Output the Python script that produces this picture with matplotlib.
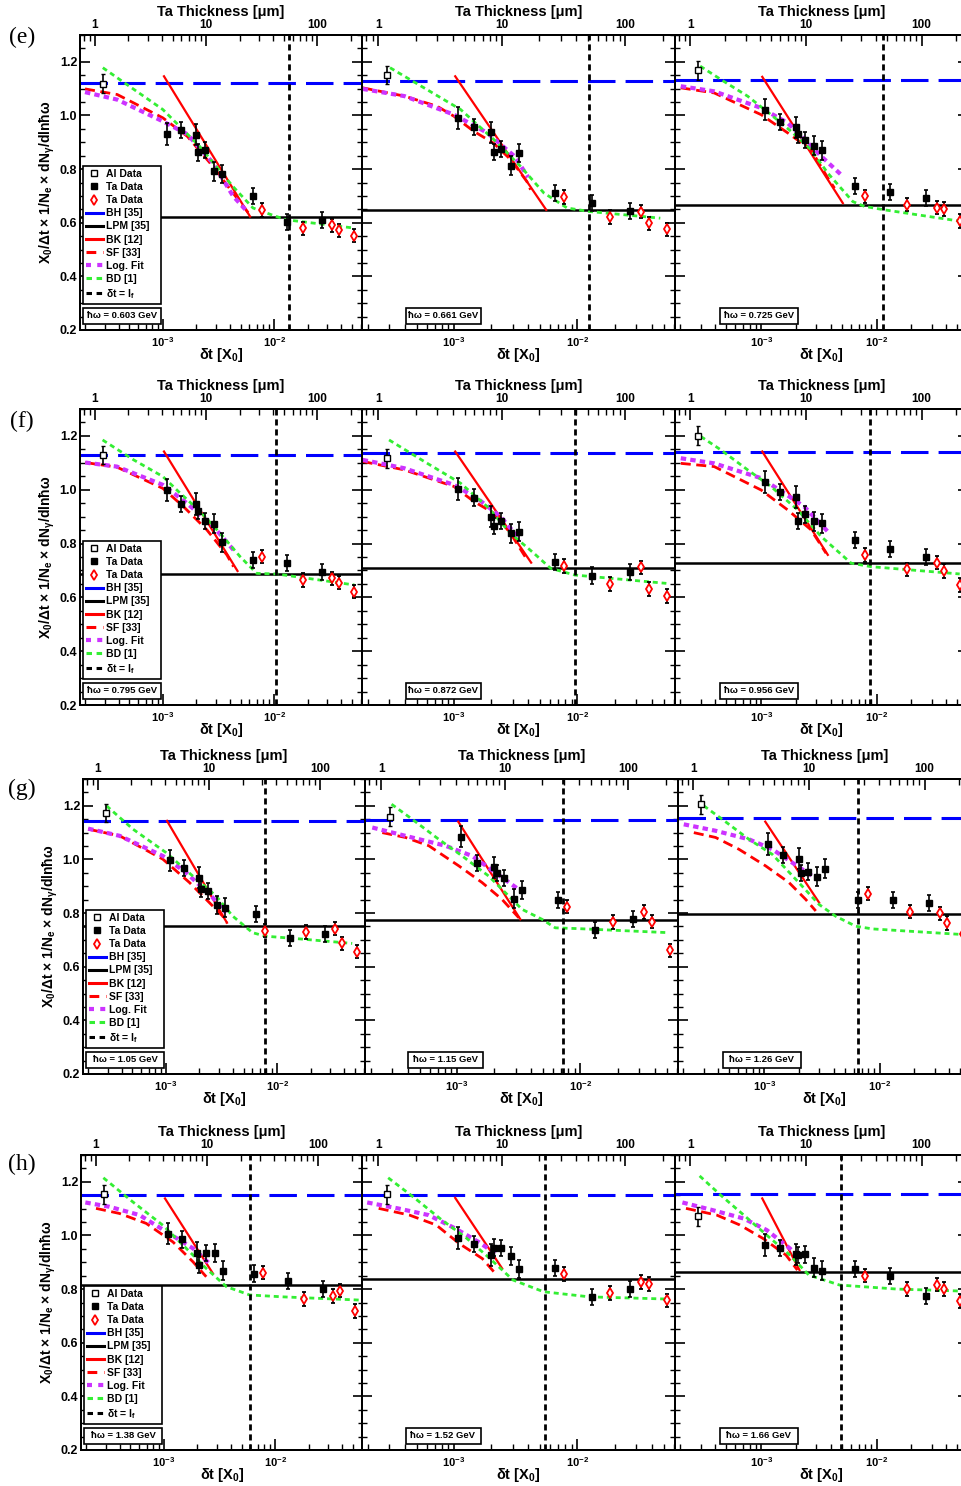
import numpy as np
import matplotlib
matplotlib.use("Agg")
import matplotlib.pyplot as plt
from matplotlib.lines import Line2D
from matplotlib.patches import Rectangle
from matplotlib.ticker import MultipleLocator, LogLocator, NullFormatter

plt.rcParams['font.family'] = ['Liberation Sans', 'DejaVu Sans']
plt.rcParams['mathtext.fontset'] = 'custom'
plt.rcParams['mathtext.rm'] = 'Liberation Sans:bold'
plt.rcParams['mathtext.bf'] = 'Liberation Sans:bold'
plt.rcParams['mathtext.it'] = 'Liberation Sans:italic:bold'
plt.rcParams['mathtext.default'] = 'rm'

# ---------------------------------------------------------------- data
PANEL_TAGS = ['(e)', '(f)', '(g)', '(h)']
ENERGY_GEV = ['0.603', '0.661', '0.725', '0.795', '0.872', '0.956',
              '1.05', '1.15', '1.26', '1.38', '1.52', '1.66']

DT_AL = [2.87e-4]
DT_TA_BLACK = [1.087e-3, 1.46e-3, 1.99e-3, 2.09e-3, 2.40e-3, 2.89e-3, 3.39e-3,
               6.52e-3, 1.30e-2, 2.68e-2]
DT_TA_RED = [7.85e-3, 1.83e-2, 3.30e-2, 3.81e-2, 5.27e-2]
ERR_AL = [0.035]
ERR_BLACK = [0.04, 0.03, 0.04, 0.03, 0.03, 0.035, 0.035, 0.03, 0.03, 0.03]
ERR_RED = [0.025, 0.025, 0.025, 0.025, 0.025]

AL_VAL = [1.118, 1.151, 1.169, 1.129, 1.117, 1.201, 1.173, 1.160, 1.206, 1.153, 1.153, 1.072]

BLACK_VAL = [
    [0.931, 0.947, 0.928, 0.862, 0.870, 0.792, 0.782, 0.698, 0.602, 0.611],
    [0.991, 0.956, 0.937, 0.865, 0.876, 0.813, 0.860, 0.711, 0.673, 0.645],
    [1.022, 0.975, 0.956, 0.929, 0.910, 0.887, 0.870, 0.738, 0.714, 0.692],
    [0.999, 0.947, 0.946, 0.921, 0.885, 0.873, 0.805, 0.739, 0.729, 0.693],
    [1.003, 0.971, 0.900, 0.865, 0.885, 0.838, 0.844, 0.733, 0.681, 0.693],
    [1.028, 0.991, 0.972, 0.884, 0.908, 0.882, 0.875, 0.813, 0.779, 0.751],
    [0.997, 0.967, 0.932, 0.889, 0.882, 0.830, 0.820, 0.795, 0.706, 0.723],
    [1.085, 0.986, 0.970, 0.951, 0.930, 0.854, 0.886, 0.849, 0.737, 0.777],
    [1.057, 1.017, 1.003, 0.951, 0.955, 0.936, 0.966, 0.848, 0.850, 0.839],
    [1.007, 0.985, 0.935, 0.889, 0.935, 0.935, 0.868, 0.858, 0.830, 0.800],
    [0.991, 0.968, 0.927, 0.955, 0.954, 0.923, 0.875, 0.877, 0.769, 0.802],
    [0.964, 0.952, 0.929, 0.927, 0.929, 0.880, 0.868, 0.875, 0.848, 0.775],
]

RED_VAL = [
    [0.648, 0.579, 0.590, 0.572, 0.552],
    [0.696, 0.622, 0.641, 0.598, 0.575],
    [0.698, 0.667, 0.656, 0.651, 0.606],
    [0.751, 0.665, 0.671, 0.655, 0.621],
    [0.717, 0.650, 0.711, 0.631, 0.605],
    [0.758, 0.704, 0.729, 0.698, 0.646],
    [0.735, 0.729, 0.742, 0.687, 0.656],
    [0.824, 0.767, 0.804, 0.768, 0.661],
    [0.872, 0.805, 0.799, 0.763, 0.721],
    [0.861, 0.763, 0.775, 0.794, 0.718],
    [0.856, 0.786, 0.827, 0.819, 0.758],
    [0.850, 0.800, 0.817, 0.800, 0.755],
]

BH = [1.122, 1.128, 1.133, 1.128, 1.138, 1.141, 1.143, 1.146, 1.153, 1.150, 1.150, 1.154]
LPM = [0.623, 0.648, 0.665, 0.686, 0.708, 0.729, 0.752, 0.773, 0.798, 0.815, 0.837, 0.862]
LF_LOGDT = [-1.862, -1.906, -1.944, -1.982, -2.022, -2.062,
            -2.107, -2.142, -2.186, -2.228, -2.265, -2.310]

BK_LOGDT0 = -2.99
BK_Y0 = [1.146, 1.146, 1.144, 1.142, 1.142, 1.142, 1.144, 1.141, 1.141, 1.138, 1.140, 1.138]
BK_LOGDT1 = [-2.216, -2.253, -2.293, -2.329, -2.375, -2.423,
             -2.451, -2.487, -2.524, -2.559, -2.610, -2.668]
BK_Y1 = [0.623, 0.648, 0.673, 0.698, 0.729, 0.758, 0.764, 0.777, 0.839, 0.858, 0.877, 0.871]

SF_LOGDT = [
    [-3.70, -3.41, -3.0, -2.78, -2.55, -2.37, -2.23],
    [-3.74, -3.40, -3.135, -3.0, -2.84, -2.68, -2.54, -2.41, -2.38],
    [-3.695, -3.406, -3.0, -2.77, -2.568, -2.423, -2.365],
    [-3.698, -3.413, -3.0, -2.814, -2.605, -2.425, -2.365],
    [-3.74, -3.404, -3.0, -2.838, -2.677, -2.542, -2.407],
    [-3.695, -3.406, -3.0, -2.77, -2.568, -2.438],
    [-3.699, -3.415, -3.027, -2.788, -2.609, -2.49, -2.451],
    [-3.605, -3.417, -3.228, -2.985, -2.797, -2.635, -2.5],
    [-3.608, -3.42, -3.218, -2.987, -2.785, -2.64, -2.553],
    [-3.61, -3.399, -3.159, -2.919, -2.739, -2.619],
    [-3.61, -3.361, -3.144, -2.958, -2.771, -2.678],
    [-3.65, -3.384, -3.184, -2.984, -2.785, -2.686],
]
SF_VAL = [
    [1.099, 1.078, 0.991, 0.922, 0.810, 0.711, 0.636],
    [1.103, 1.072, 1.034, 0.997, 0.941, 0.897, 0.835, 0.754, 0.723],
    [1.103, 1.084, 1.003, 0.935, 0.872, 0.767, 0.729],
    [1.101, 1.084, 1.005, 0.937, 0.851, 0.758, 0.714],
    [1.105, 1.074, 1.012, 0.956, 0.913, 0.838, 0.739],
    [1.098, 1.086, 0.999, 0.925, 0.851, 0.764],
    [1.113, 1.088, 1.001, 0.914, 0.839, 0.789, 0.764],
    [1.100, 1.082, 1.051, 0.976, 0.914, 0.851, 0.783],
    [1.100, 1.082, 1.038, 0.976, 0.914, 0.851, 0.808],
    [1.101, 1.082, 1.045, 0.976, 0.902, 0.846],
    [1.101, 1.076, 1.039, 0.970, 0.914, 0.865],
    [1.101, 1.076, 1.039, 0.989, 0.927, 0.871],
]

FIT_LOGDT = [
    [-3.70, -3.41, -3.0, -2.78, -2.55, -2.37, -2.25],
    [-3.74, -3.40, -3.0, -2.73, -2.51, -2.40],
    [-3.695, -3.406, -3.0, -2.77, -2.48, -2.293],
    [-3.698, -3.413, -3.0, -2.784, -2.545, -2.365],
    [-3.74, -3.404, -3.0, -2.811, -2.623, -2.461],
    [-3.695, -3.406, -3.0, -2.799, -2.626, -2.409],
    [-3.699, -3.415, -3.027, -2.818, -2.579, -2.46],
    [-3.686, -3.417, -3.093, -2.877, -2.689, -2.5],
    [-3.695, -3.42, -3.131, -2.929, -2.756, -2.582],
    [-3.706, -3.489, -3.219, -2.979, -2.739, -2.574],
    [-3.703, -3.455, -3.206, -2.989, -2.802, -2.647],
    [-3.681, -3.416, -3.15, -2.951, -2.752, -2.70],
]
FIT_VAL = [
    [1.087, 1.059, 0.978, 0.930, 0.823, 0.700, 0.645],
    [1.099, 1.072, 1.003, 0.935, 0.848, 0.770],
    [1.109, 1.090, 1.028, 0.972, 0.848, 0.773],
    [1.101, 1.086, 1.018, 0.950, 0.863, 0.776],
    [1.111, 1.080, 1.018, 0.968, 0.900, 0.813],
    [1.117, 1.098, 1.043, 0.987, 0.937, 0.838],
    [1.115, 1.088, 1.013, 0.951, 0.858, 0.801],
    [1.119, 1.088, 1.051, 1.013, 0.951, 0.888],
    [1.131, 1.107, 1.075, 1.038, 0.988, 0.938],
    [1.123, 1.107, 1.076, 1.014, 0.952, 0.889],
    [1.123, 1.101, 1.076, 1.026, 0.976, 0.927],
    [1.123, 1.094, 1.063, 1.020, 0.952, 0.930],
]

BD_LOGDT = [
    [-3.54, -3.26, -3.0, -2.67, -2.37, -2.19, -2.0, -1.89, -1.28],
    [-3.518, -2.946, -2.677, -2.461, -2.272, -2.084, -1.906, -1.329],
    [-3.527, -3.348, -3.117, -2.915, -2.741, -2.568, -2.423, -2.207, -2.106, -1.932, -1.267],
    [-3.542, -3.263, -3.0, -2.844, -2.665, -2.485, -2.305, -2.156, -1.976, -1.278],
    [-3.526, -3.216, -2.946, -2.73, -2.542, -2.353, -2.218, -2.022, -1.28],
    [-3.522, -3.348, -3.117, -2.915, -2.684, -2.48, -2.221, -2.048, -1.282],
    [-3.534, -3.296, -3.0, -2.758, -2.549, -2.4, -2.221, -2.107, -1.803, -1.325],
    [-3.53, -3.363, -3.147, -2.958, -2.743, -2.608, -2.473, -2.312, -2.204, -2.015, -1.287],
    [-3.522, -3.363, -3.131, -2.929, -2.698, -2.524, -2.38, -2.207, -2.062, -1.281],
    [-3.544, -3.279, -3.009, -2.799, -2.619, -2.438, -2.228, -1.928, -1.237],
    [-3.533, -3.331, -3.113, -2.896, -2.709, -2.523, -2.274, -1.902, -1.28],
    [-3.532, -3.349, -3.15, -2.951, -2.752, -2.586, -2.32, -1.821, -1.29],
]
BD_VAL = [
    [1.178, 1.097, 1.022, 0.885, 0.735, 0.655, 0.626, 0.611, 0.580],
    [1.178, 1.022, 0.910, 0.810, 0.711, 0.655, 0.642, 0.617],
    [1.184, 1.134, 1.072, 1.003, 0.941, 0.872, 0.785, 0.679, 0.661, 0.648, 0.605],
    [1.185, 1.111, 1.049, 0.987, 0.919, 0.838, 0.751, 0.689, 0.687, 0.646],
    [1.185, 1.098, 1.024, 0.937, 0.838, 0.764, 0.708, 0.683, 0.652],
    [1.198, 1.148, 1.074, 1.012, 0.925, 0.826, 0.727, 0.714, 0.687],
    [1.200, 1.113, 1.026, 0.938, 0.864, 0.789, 0.727, 0.714, 0.704, 0.687],
    [1.206, 1.150, 1.075, 1.013, 0.938, 0.876, 0.814, 0.777, 0.745, 0.742, 0.727],
    [1.200, 1.150, 1.075, 1.019, 0.913, 0.832, 0.788, 0.751, 0.741, 0.720],
    [1.215, 1.125, 1.038, 0.952, 0.877, 0.809, 0.778, 0.771, 0.759],
    [1.215, 1.144, 1.063, 0.989, 0.914, 0.834, 0.790, 0.771, 0.763],
    [1.222, 1.150, 1.076, 1.001, 0.927, 0.852, 0.815, 0.800, 0.793],
]

LEGEND_LABELS = ['Al Data', 'Ta Data', 'Ta Data', 'BH [35]', 'LPM [35]', 'BK [12]',
                 'SF [33]', 'Log. Fit', 'BD [1]', 'δt = l$_\\mathregular{f}$']
Y_TICKS = [0.2, 0.4, 0.6, 0.8, 1.0, 1.2]
Y_TICK_LABELS = ['0.2', '0.4', '0.6', '0.8', '1.0', '1.2']
X_TICKS = [1e-3, 1e-2]
X_TICK_LABELS = [r'$\mathbf{10^{-3}}$', r'$\mathbf{10^{-2}}$']
TOP_TICKS = [1, 10, 100]
TOP_TICK_LABELS = ['1', '10', '100']
UM_PER_X0 = 4094.0     # Ta radiation length in micrometres

# ---------------------------------------------------------------- layout
W, H = 962.0, 1486.0
fig = plt.figure(figsize=(W / 100, H / 100), dpi=100)

ROW_TOP = [35, 409, 779, 1155]
ROW_BOT = [330, 705, 1074, 1450]
COL_LEFT = [[80, 362, 675], [80, 362, 675], [83, 365, 678], [81, 362, 675]]
COL_W = [282, 313, 293]
LOG_XMIN, LOG_XMAX = -3.745, -1.21
EBOX_CX = [42, 81, 84]
EBOX_W = [78, 75, 78]
TAG_Y = [37, 421, 789, 1164]
YLAB_X = [47, 47, 50, 48]

C_BLUE = '#0000ff'
C_RED = '#ff0000'
C_MAG = '#cc33ff'
C_GREEN = '#33ee33'

SF_DASH = (3.6, 2.0)
FIT_DASH = (1.3, 1.0)
BD_DASH = (1.8, 1.4)
LF_DASH = (2.2, 1.4)

legend_handles = [
    Line2D([], [], ls='none', marker='s', ms=5, mfc='white', mec='black', mew=1.0),
    Line2D([], [], ls='none', marker='s', ms=5, mfc='black', mec='black'),
    Line2D([], [], ls='none', marker='d', ms=5, mfc='white', mec=C_RED, mew=1.3),
    Line2D([], [], color=C_BLUE, lw=2.2),
    Line2D([], [], color='black', lw=2.2),
    Line2D([], [], color=C_RED, lw=2.2),
    Line2D([], [], color=C_RED, lw=2.2, dashes=(3.2, 2.2)),
    Line2D([], [], color=C_MAG, lw=3.0, dashes=(1.2, 1.5)),
    Line2D([], [], color=C_GREEN, lw=2.2, dashes=(1.8, 1.5)),
    Line2D([], [], color='black', lw=2.2, dashes=(1.8, 1.5)),
]

for i in range(12):
    r, c = divmod(i, 3)
    left = COL_LEFT[r][c]
    w = COL_W[c]
    top, bot = ROW_TOP[r], ROW_BOT[r]
    h = bot - top
    ax = fig.add_axes([left / W, 1 - bot / H, w / W, h / H])
    ax.set_xscale('log')
    xlo, xhi = 10 ** LOG_XMIN, 10 ** LOG_XMAX
    ax.set_xlim(xlo, xhi)
    ax.set_ylim(0.2, 1.3)

    # theory curves
    ax.axhline(BH[i], color=C_BLUE, lw=2.2, dashes=(9, 3.3), zorder=2)
    ax.axhline(LPM[i], color='black', lw=1.8, zorder=2)
    ax.plot([10 ** BK_LOGDT0, 10 ** BK_LOGDT1[i]], [BK_Y0[i], BK_Y1[i]],
            color=C_RED, lw=1.6, zorder=3)
    ax.plot(10 ** np.array(SF_LOGDT[i]), SF_VAL[i], color=C_RED, lw=2.0,
            dashes=SF_DASH, zorder=3)
    ax.plot(10 ** np.array(FIT_LOGDT[i]), FIT_VAL[i], color=C_MAG, lw=3.0,
            dashes=FIT_DASH, zorder=3)
    ax.plot(10 ** np.array(BD_LOGDT[i]), BD_VAL[i], color=C_GREEN, lw=2.0,
            dashes=BD_DASH, zorder=3)
    ax.axvline(10 ** LF_LOGDT[i], color='black', lw=2.0, dashes=LF_DASH, zorder=3)

    # data
    ekw = dict(ecolor='black', elinewidth=1.2, capsize=1.5, capthick=1.2, zorder=5)
    ax.errorbar(DT_AL, [AL_VAL[i]], yerr=ERR_AL, fmt='s', ms=5, mfc='white',
                mec='black', mew=1.0, **ekw)
    ax.errorbar(DT_TA_BLACK, BLACK_VAL[i], yerr=ERR_BLACK, fmt='s', ms=5,
                mfc='black', mec='black', **ekw)
    ax.errorbar(DT_TA_RED, RED_VAL[i], yerr=ERR_RED, fmt='d', ms=5, mfc='white',
                mec=C_RED, mew=1.3, **ekw)

    # axes styling
    for s in ax.spines.values():
        s.set_linewidth(1.4)
    ax.set_yticks(Y_TICKS)
    ax.yaxis.set_minor_locator(MultipleLocator(0.05))
    if c == 0:
        ax.set_yticklabels(Y_TICK_LABELS, fontsize=9, fontweight='bold')
    ax.tick_params(axis='y', which='major', direction='in', length=7, width=1.2,
                   left=True, right=True, labelleft=(c == 0), pad=2)
    ax.tick_params(axis='y', which='minor', direction='in', length=3.5, width=1.0,
                   left=True, right=True)
    ax.set_xticks(X_TICKS)
    ax.set_xticklabels(X_TICK_LABELS, fontsize=8)
    ax.xaxis.set_minor_locator(LogLocator(base=10, subs=np.arange(2, 10), numticks=40))
    ax.xaxis.set_minor_formatter(NullFormatter())
    ax.tick_params(axis='x', which='major', direction='in', length=8, width=1.2,
                   top=False, bottom=True, pad=4)
    ax.tick_params(axis='x', which='minor', direction='in', length=4, width=1.0,
                   top=False, bottom=True)
    ax.text(0.5, -25.0 / h, 'δt [X$_\\mathregular{0}$]', transform=ax.transAxes,
            ha='center', va='center', fontsize=10.5, fontweight='bold')

    # top thickness axis
    ax2 = ax.twiny()
    ax2.set_xscale('log')
    ax2.set_xlim(xlo * UM_PER_X0, xhi * UM_PER_X0)
    ax2.set_xticks(TOP_TICKS)
    ax2.set_xticklabels(TOP_TICK_LABELS, fontsize=8.5, fontweight='bold')
    ax2.xaxis.set_minor_locator(LogLocator(base=10, subs=np.arange(2, 10), numticks=40))
    ax2.xaxis.set_minor_formatter(NullFormatter())
    ax2.tick_params(axis='x', which='major', direction='in', length=8, width=1.2, pad=3)
    ax2.tick_params(axis='x', which='minor', direction='in', length=4, width=1.0)
    for s in ax2.spines.values():
        s.set_linewidth(1.4)
    ax.text(0.5, 1 + 23.0 / h, 'Ta Thickness [μm]', transform=ax.transAxes,
            ha='center', va='center', fontsize=10.5, fontweight='bold')

    # energy box
    bw = EBOX_W[c]
    cx = EBOX_CX[c]
    ax.add_patch(Rectangle(((cx - bw / 2) / w, 6.5 / h), bw / w, 16.0 / h,
                           transform=ax.transAxes, fc='white', ec='black', lw=1.2,
                           zorder=9))
    ax.text(cx / w, 14.5 / h, 'ħω = %s GeV' % ENERGY_GEV[i], transform=ax.transAxes,
            ha='center', va='center', fontsize=6.8, fontweight='bold', zorder=10)

    if c == 0:
        leg = ax.legend(legend_handles, LEGEND_LABELS, loc='lower left',
                        bbox_to_anchor=(3.0 / w, 26.0 / h, 78.0 / w, 140.0 / h),
                        mode='expand', borderaxespad=0,
                        prop={'weight': 'bold', 'size': 7.5}, frameon=True,
                        fancybox=False, edgecolor='black', framealpha=1,
                        handlelength=1.6, handletextpad=0.35, labelspacing=0.3,
                        borderpad=0.3)
        leg.get_frame().set_linewidth(1.2)
        leg.set_zorder(10)
        fig.text(22 / W, 1 - TAG_Y[r] / H, PANEL_TAGS[r], fontsize=17,
                 family=['Liberation Serif', 'DejaVu Serif'], ha='center', va='center')
        fig.text(YLAB_X[r] / W, 1 - (top + bot) / 2 / H,
                 'X$_\\mathregular{0}$/Δt × 1/N$_\\mathregular{e}$ × dN$_\\mathregular{γ}$/dlnħω',
                 rotation=90, ha='center', va='center', fontsize=10, fontweight='bold')

fig.savefig('out.png', dpi=100)
